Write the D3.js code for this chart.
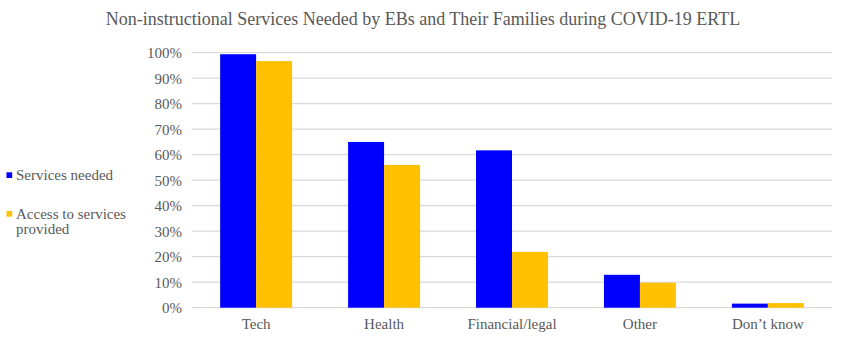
<!DOCTYPE html>
<html>
<head>
<meta charset="utf-8">
<script src="https://cdn.jsdelivr.net/npm/d3@7"></script>
<style>
  body { margin: 0; background: #fff; }
</style>
</head>
<body>
<div id="chart"></div>
<script>
// data
const categories = ["Tech", "Health", "Financial/legal", "Other", "Don\u2019t know"];
const seriesNames = ["Services needed", "Access to services provided"];
const needed = [0.994, 0.65, 0.617, 0.129, 0.016];
const provided = [0.967, 0.56, 0.219, 0.098, 0.018];
const yTicks = [0, 0.1, 0.2, 0.3, 0.4, 0.5, 0.6, 0.7, 0.8, 0.9, 1.0];
const colors = ["#0000ff", "#ffc000"];

const fontFam = "'Liberation Serif', Tinos, 'Times New Roman', Times, 'DejaVu Serif', serif";
const textCol = "#595959";

const width = 846, height = 337;
const margin = { top: 52.7, right: 14, bottom: 29.3, left: 192 };
const innerW = width - margin.left - margin.right;
const innerH = height - margin.top - margin.bottom;

const svg = d3.select("#chart")
  .append("svg")
  .attr("width", width)
  .attr("height", height);

// title
svg.append("text")
  .attr("x", 423)
  .attr("y", 25)
  .attr("text-anchor", "middle")
  .style("font-family", fontFam)
  .style("font-size", "18px")
  .style("fill", textCol)
  .text("Non-instructional Services Needed by EBs and Their Families during COVID-19 ERTL");

const g = svg.append("g").attr("transform", `translate(${margin.left},${margin.top})`);

const x = d3.scaleBand().domain(categories).range([0, innerW]).paddingInner(0.4375).paddingOuter(0.22);
const x1 = d3.scaleBand().domain([0, 1]).range([0, x.bandwidth()]);
const y = d3.scaleLinear().domain([0, 1]).range([innerH, 0]);

// gridlines
g.append("g")
  .selectAll("line")
  .data(yTicks)
  .join("line")
  .attr("x1", 0)
  .attr("x2", innerW)
  .attr("y1", d => y(d))
  .attr("y2", d => y(d))
  .attr("stroke", "#d9d9d9")
  .attr("stroke-width", 1.3);

// y axis labels
const yAxis = g.append("g")
  .call(d3.axisLeft(y).tickValues(yTicks).tickFormat(d3.format(".0%")).tickSize(0).tickPadding(10));
yAxis.select(".domain").remove();
yAxis.selectAll("text")
  .style("font-family", fontFam).style("font-size", "15px").style("fill", textCol);

// bars
const groups = g.append("g")
  .selectAll("g")
  .data(categories)
  .join("g")
  .attr("transform", d => `translate(${x(d)},0)`);

groups.selectAll("rect")
  .data((d, i) => [needed[i], provided[i]])
  .join("rect")
  .attr("x", (d, j) => x1(j))
  .attr("width", x1.bandwidth())
  .attr("y", d => y(d))
  .attr("height", d => innerH - y(d))
  .attr("fill", (d, j) => colors[j]);

// x axis labels
const xAxis = g.append("g")
  .attr("transform", `translate(0,${innerH})`)
  .call(d3.axisBottom(x).tickSize(0).tickPadding(11));
xAxis.select(".domain").remove();
xAxis.selectAll("text")
  .style("font-family", fontFam).style("font-size", "15px").style("fill", textCol);

// legend
const legend = svg.append("g");
const legendY = [172.3, 211];
const legendLines = [["Services needed"], ["Access to services", "provided"]];
seriesNames.forEach((name, i) => {
  legend.append("rect")
    .attr("x", 6.5)
    .attr("y", legendY[i])
    .attr("width", 5.7)
    .attr("height", 5.7)
    .attr("fill", colors[i]);
  const t = legend.append("text")
    .attr("x", 16)
    .attr("y", legendY[i] + 7.5)
    .style("font-family", fontFam)
    .style("font-size", "15px")
    .style("fill", textCol);
  legendLines[i].forEach((line, k) => {
    t.append("tspan").attr("x", 16).attr("dy", k === 0 ? 0 : 15).text(line);
  });
});
</script>
</body>
</html>
